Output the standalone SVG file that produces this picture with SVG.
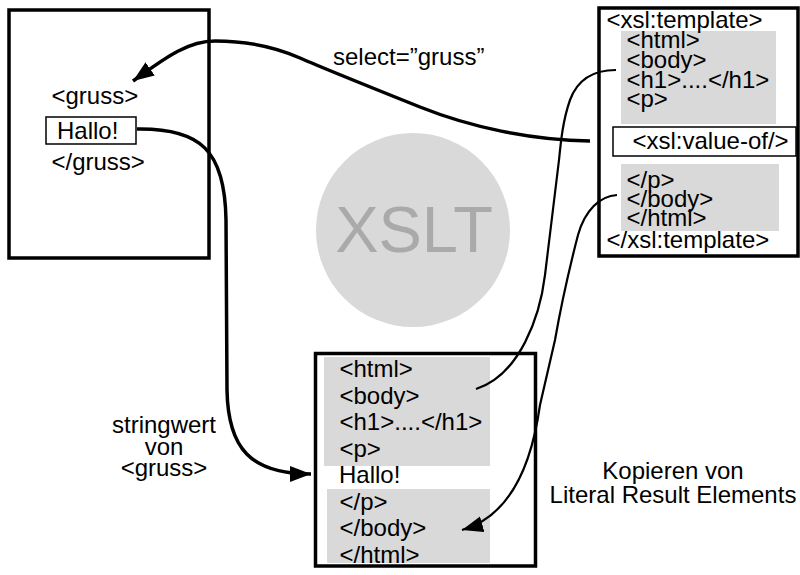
<svg xmlns="http://www.w3.org/2000/svg" width="800" height="575" viewBox="0 0 800 575">
<style>
text{font-family:"Liberation Sans",Arial,Helvetica,sans-serif;font-size:24px;fill:#000}
.box{fill:#fff;stroke:#000;stroke-width:3.5}
.sub{fill:#fff;stroke:#000;stroke-width:1.5}
.gray{fill:#d9d9d9;stroke:none}
.thick{fill:none;stroke:#000;stroke-width:3.5}
.thin{fill:none;stroke:#000;stroke-width:2.2}
.mid{text-anchor:middle}
</style>
<defs>
<marker id="ah" markerUnits="userSpaceOnUse" markerWidth="24" markerHeight="18" refX="21" refY="8" orient="auto">
<path d="M0,0 L21,8 L0,16 Z" fill="#000"/>
</marker>
</defs>
<rect width="800" height="575" fill="#fff"/>

<g id="xslt-circle">
<circle cx="413" cy="230" r="97" fill="#d9d9d9"/>
<text x="414" y="252" class="mid" style="font-size:65px;fill:#aaa">XSLT</text>
</g>

<g id="source">
<rect class="box" x="9" y="10" width="200" height="248"/>
<text x="51.5" y="104">&lt;gruss&gt;</text>
<rect class="sub" x="46" y="117" width="90" height="27"/>
<text x="57" y="139">Hallo!</text>
<text x="51.5" y="170">&lt;/gruss&gt;</text>
</g>

<g id="template">
<rect class="box" x="599" y="8" width="199" height="248"/>
<rect class="gray" x="621" y="31" width="155" height="93"/>
<rect class="gray" x="621" y="164" width="158" height="67"/>
<text x="606.5" y="28">&lt;xsl:template&gt;</text>
<text x="626.5" y="48">&lt;html&gt;</text>
<text x="626.5" y="68">&lt;body&gt;</text>
<text x="626.5" y="88">&lt;h1&gt;....&lt;/h1&gt;</text>
<text x="626.5" y="107">&lt;p&gt;</text>
<rect class="sub" x="613" y="127" width="183" height="29"/>
<text x="632.5" y="149">&lt;xsl:value-of/&gt;</text>
<text x="626.5" y="188">&lt;/p&gt;</text>
<text x="626.5" y="207">&lt;/body&gt;</text>
<text x="626.5" y="226">&lt;/html&gt;</text>
<text x="606.5" y="248">&lt;/xsl:template&gt;</text>
</g>

<g id="result">
<rect class="box" x="315.5" y="353.5" width="220" height="212.5"/>
<rect class="gray" x="324" y="357" width="166" height="109"/>
<rect class="gray" x="327" y="489" width="163" height="74"/>
<text x="339.5" y="377">&lt;html&gt;</text>
<text x="339.5" y="403.5">&lt;body&gt;</text>
<text x="339.5" y="430">&lt;h1&gt;....&lt;/h1&gt;</text>
<text x="339.5" y="456.5">&lt;p&gt;</text>
<text x="339" y="483">Hallo!</text>
<text x="339.5" y="509.5">&lt;/p&gt;</text>
<text x="339.5" y="536">&lt;/body&gt;</text>
<text x="339.5" y="562.5">&lt;/html&gt;</text>
</g>

<g id="connectors">
<path class="thick" marker-end="url(#ah)" d="M590,141 C530,140 470,127 420,107 C370,87 325,69 300,58 C275,47 245,41 215,41 C185,41 160,62 133,81"/>
<path class="thick" marker-end="url(#ah)" d="M137,129 C200,128 225,150 226,220 L227,390 C228,448 250,474 311,474"/>
<path class="thin" d="M616,70 C595,70 578,78 570,100 C563,120 561,140 559,160 L545,275 C540,316 520,375 476,389"/>
<path class="thin" marker-end="url(#ah)" d="M617,195 C600,196 585,210 578,235 C571,262 562,300 555,340 L540,405 C533,455 515,515 462,530"/>
</g>

<g id="labels">
<text x="333" y="65">select=”gruss”</text>
<text x="164" y="433" class="mid">stringwert</text>
<text x="164" y="455" class="mid">von</text>
<text x="164" y="476" class="mid">&lt;gruss&gt;</text>
<text x="673" y="479" class="mid">Kopieren von</text>
<text x="673" y="503" class="mid">Literal Result Elements</text>
</g>
</svg>
